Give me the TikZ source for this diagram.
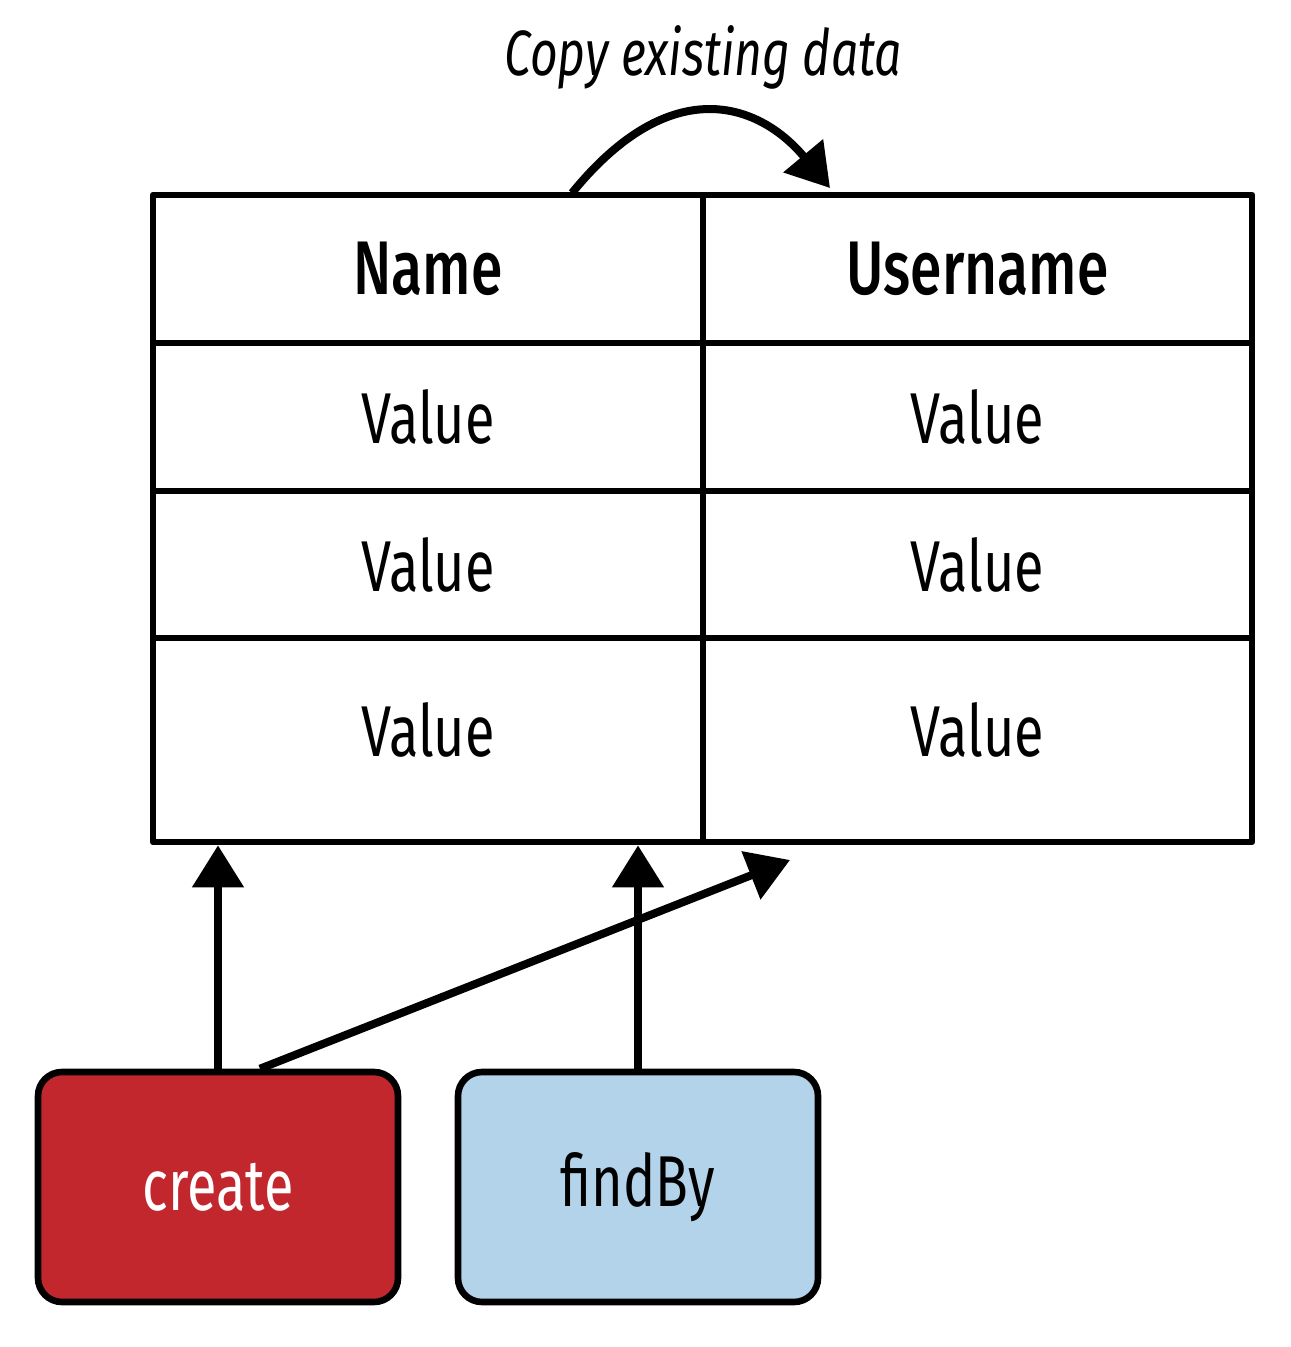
\documentclass[tikz,border=0pt]{standalone}
\usepackage{fontspec}
\setmainfont{Fira Sans}[FakeStretch=0.75, BoldFont={Fira Sans Medium}, BoldItalicFont={Fira Sans Medium Italic}]
\usetikzlibrary{arrows.meta}
\definecolor{boxred}{HTML}{C1272D}
\definecolor{boxblue}{HTML}{B3D3EA}
\begin{document}
\begin{tikzpicture}[x=0.5pt,y=-0.5pt,
  cell/.style={draw, line width=3.3pt, line join=round, inner sep=0pt, font=\fontsize{36}{40}\selectfont},
  headcell/.style={cell, font=\fontsize{38}{40}\selectfont\bfseries},
  colA/.style={minimum width=275pt},
  colB/.style={minimum width=274.5pt},
  opbox/.style={draw, line width=3.3pt, rounded corners=12pt, minimum width=180pt, minimum height=115pt, inner sep=0pt, font=\fontsize{36}{40}\selectfont},
  arr/.style={line width=4pt, -{Triangle[length=21pt,width=25pt]}},
]
\useasboundingbox (0,0) rectangle (1290,1347);
% table
\node[headcell, colA, minimum height=74pt] (h1) at (428,269) {Name};
\node[headcell, colB, minimum height=74pt] (h2) at (977.5,269) {Username};
\node[cell, colA, minimum height=74pt] (r2a) at (428,417) {Value};
\node[cell, colB, minimum height=74pt] (r2b) at (977.5,417) {Value};
\node[cell, colA, minimum height=73.5pt] (r3a) at (428,564.5) {Value};
\node[cell, colB, minimum height=73.5pt] (r3b) at (977.5,564.5) {Value};
\node[cell, colA, minimum height=102pt] (r4a) at (428,740) {};
\node[cell, colB, minimum height=102pt] (r4b) at (977.5,740) {};
\node[font=\fontsize{36}{40}\selectfont] (v4a) at (428,730) {Value};
\node[font=\fontsize{36}{40}\selectfont] (v4b) at (977.5,730) {Value};
% title
\node[font=\fontsize{32}{36}\selectfont\itshape] (title) at (703,57) {Copy existing data};
% boxes
\node[opbox, fill=boxred, text=white] (create) at (218,1187) {create};
\node[opbox, fill=boxblue] (findby) at (638,1187) {findBy};
% copy arrow
\coordinate (cpS) at (572,193);
\coordinate (cpE) at (830,188);
\draw[arr] (cpS) .. controls (672,70) and (760,104) .. (cpE);
% arrows
\draw[arr] (create.north) -- (create.north |- r4a.south);
\draw[arr] (findby.north) -- (findby.north |- r4a.south);
\coordinate (diagEnd) at (790,860);
\draw[arr] ([xshift=21pt]create.north) -- (diagEnd);
\end{tikzpicture}
\end{document}
